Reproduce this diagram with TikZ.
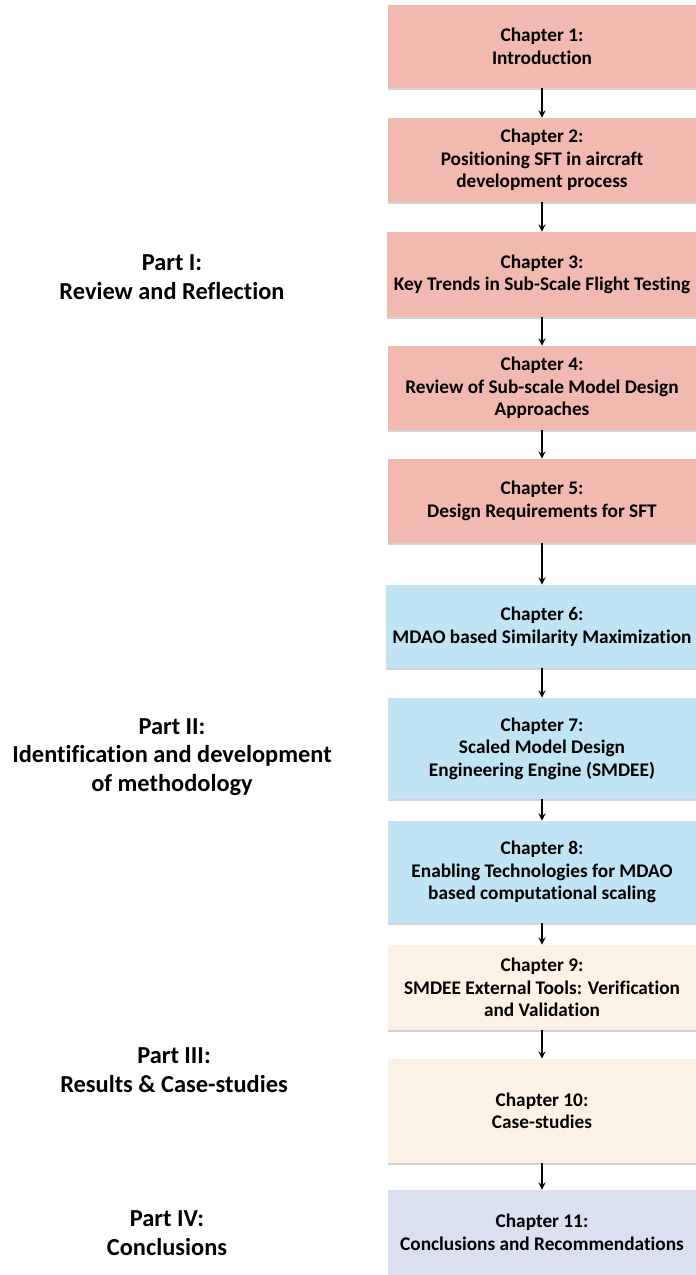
\documentclass[tikz,border=0pt]{standalone}
\usepackage{fontspec}
\setmainfont{Carlito}[Ligatures=NoCommon]
\usepackage{tikz}
\usetikzlibrary{arrows,shadows}
\definecolor{pinkbox}{RGB}{241,185,176}
\definecolor{bluebox}{RGB}{193,228,245}
\definecolor{beigebox}{RGB}{251,241,228}
\definecolor{greybox}{RGB}{218,224,240}

\begin{document}
\begin{tikzpicture}[x=0.5pt,y=0.5pt,>=stealth,
  chap/.style={rectangle,draw=none,minimum width=154pt,align=center,
    font=\fontsize{9.65}{11.3}\selectfont\bfseries,
    drop shadow={shadow xshift=0pt,shadow yshift=-1.2pt,opacity=0.35}},
  part/.style={align=center,font=\fontsize{12.2}{14.2}\selectfont\bfseries}]
\useasboundingbox (0,0) rectangle (696,1275);

\node[chap,fill=pinkbox,minimum height=41.5pt] (c1) at (542,1228.5) {Chapter 1:\\Introduction};
\node[chap,fill=pinkbox,minimum height=42pt] (c2) at (542,1115) {Chapter 2:\\Positioning SFT in aircraft\\development process};
\node[chap,fill=pinkbox,minimum height=42.5pt] (c3) at (542,1000.5) {Chapter 3:\\Key Trends in Sub-Scale Flight Testing};
\node[chap,fill=pinkbox,minimum height=42pt] (c4) at (542,887) {Chapter 4:\\Review of Sub-scale Model Design\\Approaches};
\node[chap,fill=pinkbox,minimum height=42pt] (c5) at (542,774) {Chapter 5:\\Design Requirements for SFT};
\node[chap,fill=bluebox,minimum height=41.5pt] (c6) at (542,648.5) {Chapter 6:\\MDAO based Similarity Maximization};
\node[chap,fill=bluebox,minimum height=50.5pt] (c7) at (542,526.5) {Chapter 7:\\Scaled Model Design\\Engineering Engine (SMDEE)};
\node[chap,fill=bluebox,minimum height=51pt] (c8) at (542,403) {Chapter 8:\\Enabling Technologies for MDAO\\based computational scaling};
\node[chap,fill=beigebox,minimum height=42.5pt] (c9) at (542,287.5) {Chapter 9:\\SMDEE External Tools: Verification\\and Validation};
\node[chap,fill=beigebox,minimum height=52pt] (c10) at (542,164) {Chapter 10:\\Case-studies};
\node[chap,fill=greybox,minimum height=42.5pt] (c11) at (542,42.5) {Chapter 11:\\Conclusions and Recommendations};

\foreach \i [evaluate=\i as \j using int(\i+1)] in {1,...,10}
  \draw[->,line width=0.6pt] (c\i) -- (c\j);

\node[part] (p1) at (172,998) {Part I:\\Review and Reflection};
\node[part] (p2) at (172,518) {Part II:\\Identification and development\\of methodology};
\node[part] (p3) at (174,205) {Part III:\\Results \& Case-studies};
\node[part] (p4) at (167,42) {Part IV:\\Conclusions};
\end{tikzpicture}
\end{document}
